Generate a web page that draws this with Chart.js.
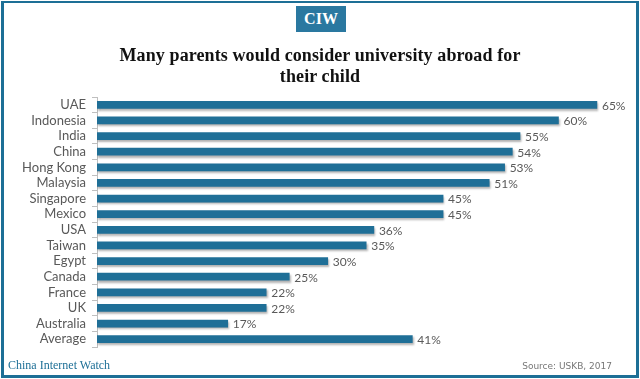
<!DOCTYPE html>
<html><head><meta charset="utf-8">
<script src="https://cdn.jsdelivr.net/npm/chart.js@4/dist/chart.umd.min.js"></script>
<style>
html,body{margin:0;padding:0;background:#fff;}
#wrap{position:relative;width:640px;height:379px;overflow:hidden;background:#fff;}
#frame{position:absolute;left:1px;top:1px;width:632px;height:372px;border:3px solid #1d6f96;border-top-width:2px;box-sizing:content-box;}
#badge{position:absolute;left:296px;top:6px;width:50px;height:26px;background:#2a78a0;color:#fff;font:bold 16px "Liberation Serif",serif;text-align:center;line-height:26px;}
#title{position:absolute;left:0;top:45px;width:640px;text-align:center;font:bold 18px/21px "Liberation Serif",serif;color:#111;letter-spacing:0.1px;}
#brand{position:absolute;left:8px;top:358px;font:12px "Liberation Serif",serif;color:#1d6f96;}
#src{position:absolute;right:28px;top:361px;font:9px "DejaVu Sans",sans-serif;color:#777;}
canvas{position:absolute;left:0;top:0;}
</style></head>
<body><div id="wrap">
<canvas id="c" width="640" height="379"></canvas>
<div id="frame"></div>
<div id="badge">CIW</div>
<div id="title">Many parents would consider university abroad for<br>their child</div>
<div id="brand">China Internet Watch</div>
<div id="src">Source: USKB, 2017</div>
</div>
<script>
const categories = ["UAE","Indonesia","India","China","Hong Kong","Malaysia","Singapore","Mexico","USA","Taiwan","Egypt","Canada","France","UK","Australia","Average"];
const values = [65,60,55,54,53,51,45,45,36,35,30,25,22,22,17,41];

const labelPlugin = {
  id:'vlabels',
  afterDatasetsDraw(chart){
    const ctx = chart.ctx;
    const meta = chart.getDatasetMeta(0);
    ctx.save();
    ctx.font = '12px Lato, sans-serif';
    ctx.fillStyle = '#595959';
    ctx.textBaseline = 'middle';
    ctx.textAlign = 'left';
    meta.data.forEach((bar,i)=>{
      ctx.fillText(values[i] + '%', bar.x + 5, bar.y + 1);
    });
    ctx.restore();
  }
};
const shadowPlugin = {
  id:'shadow',
  beforeDatasetDraw(chart){
    const ctx = chart.ctx;
    ctx.save();
    ctx.shadowColor = 'rgba(0,0,0,0.3)';
    ctx.shadowOffsetX = 1;
    ctx.shadowOffsetY = 2;
    ctx.shadowBlur = 2;
  },
  afterDatasetDraw(chart){ chart.ctx.restore(); }
};

new Chart(document.getElementById('c'), {
  type:'bar',
  data:{labels:categories,datasets:[{data:values,backgroundColor:'#1f6f97',barThickness:7}]},
  options:{
    indexAxis:'y',
    responsive:false,
    animation:false,
    layout:{padding:{top:97,bottom:32,left:0,right:20}},
    plugins:{legend:{display:false},tooltip:{enabled:false}},
    scales:{
      x:{display:false,min:0,max:68},
      y:{
        afterFit(s){ s.width = 97; },
        grid:{drawOnChartArea:false,tickLength:5,color:'#bfbfbf',offset:true},
        border:{color:'#bfbfbf'},
        ticks:{color:'#595959',font:{family:'Lato',size:13},padding:6,autoSkip:false}
      }
    }
  },
  plugins:[shadowPlugin,labelPlugin]
});
</script>
</body></html>
